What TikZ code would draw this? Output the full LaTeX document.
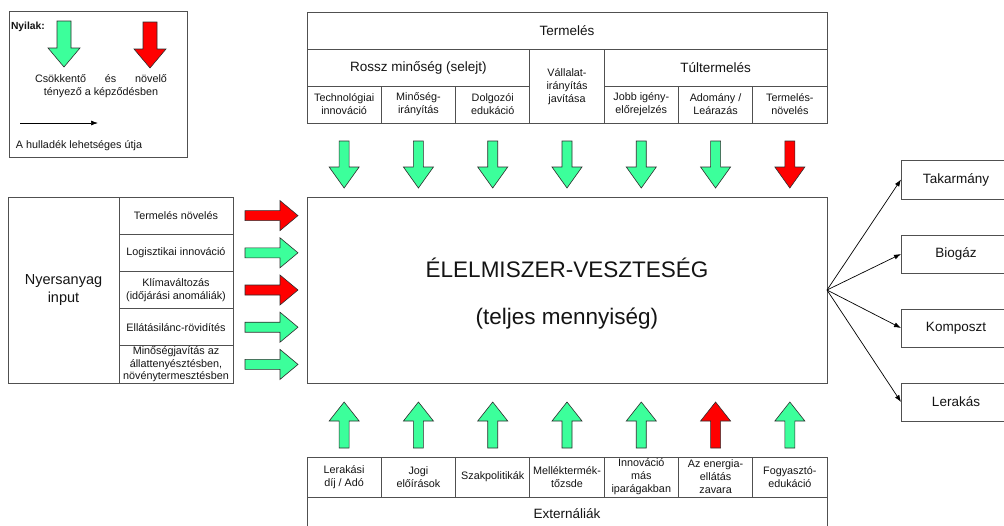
\documentclass[tikz,border=0pt]{standalone}
\usepackage{fontspec}
\setmainfont{Liberation Sans}
\usetikzlibrary{arrows.meta}
\definecolor{ggreen}{RGB}{60,255,155}
\definecolor{rred}{RGB}{255,0,0}
\definecolor{lineg}{RGB}{80,80,80}
\definecolor{arrline}{RGB}{45,45,45}
\definecolor{txt}{RGB}{20,20,20}
\tikzset{
  cell/.style={draw=lineg, line width=0.9pt, inner sep=0pt, outer sep=0pt, align=center, text=txt, font=\fontsize{10.8}{13}\selectfont},
  headcell/.style={cell, font=\fontsize{13.5}{16}\selectfont},
  plain/.style={inner sep=0pt, outer sep=0pt, align=center, text=txt},
  fatarr/.style={draw=arrline, line width=0.6pt, line join=miter},
  garr/.style={fatarr, fill=ggreen},
  rarrow/.style={fatarr, fill=rred},
  flow/.style={draw=black, line width=0.7pt, -{Latex[length=7pt,width=5pt]}},
  darr/.pic={\path[pic actions] (-5,0) -- (5,0) -- (5,26) -- (15,26) -- (0,47) -- (-15,26) -- (-5,26) -- cycle;},
  uarr/.pic={\path[pic actions] (-5,0) -- (5,0) -- (5,-27) -- (15,-27) -- (0,-46) -- (-15,-27) -- (-5,-27) -- cycle;},
  rarr/.pic={\path[pic actions] (0,-5) -- (35,-5) -- (35,-15) -- (53,0) -- (35,15) -- (35,5) -- (0,5) -- cycle;},
  legarr/.pic={\path[pic actions] (-7,0) -- (7,0) -- (7,27) -- (16,27) -- (0,46) -- (-16,27) -- (-7,27) -- cycle;},
}
\begin{document}
\begin{tikzpicture}[x=1pt,y=-1pt]
\useasboundingbox (0,0) rectangle (1004,525);
\clip (0,0) rectangle (1004,525);
\fill[white] (0,0) rectangle (1004,525);

% ---------- legend ----------
\node[cell, minimum width=178pt, minimum height=146pt] (legend) at (98,84) {};
\node[plain, anchor=west, font=\fontsize{10.3}{12}\selectfont\bfseries] (nyilak) at (11,27) {Nyilak:};
\pic[garr] at (64,21) {legarr};
\pic[rarrow] at (150,22) {legarr};
\node[plain, font=\fontsize{10.8}{12.5}\selectfont] (legtext) at (101,86) {\makebox[132pt][s]{Csökkentő és növelő}\\tényező a képződésben};
\coordinate (lega) at (20,123);
\coordinate (legb) at (98,123);
\draw[flow] (lega) -- (legb);
\node[plain, anchor=west, font=\fontsize{10.8}{12.5}\selectfont] (legpath) at (16,146) {A hulladék lehetséges útja};

% ---------- top block: Termelés ----------
\node[headcell, minimum width=520pt, minimum height=37pt] (termeles) at (567,31) {Termelés};
\node[headcell, minimum width=222.86pt, minimum height=36.5pt] (rossz) at (418.43,67.75) {Rossz minőség (selejt)};
\node[cell, minimum width=74.29pt, minimum height=73.5pt] (vallalat) at (567,86.25) {Vállalat-\\irányítás\\javítása};
\node[headcell, minimum width=222.86pt, minimum height=36.5pt] (tul) at (715.57,67.75) {Túltermelés};
\node[cell, minimum width=74.29pt, minimum height=37pt] (t1) at (344.14,104.5) {Technológiai\\innováció};
\node[cell, minimum width=74.29pt, minimum height=37pt] (t2) at (418.43,104.5) {Minőség-\\irányítás};
\node[cell, minimum width=74.29pt, minimum height=37pt] (t3) at (492.71,104.5) {Dolgozói\\edukáció};
\node[cell, minimum width=74.29pt, minimum height=37pt] (t5) at (641.29,104.5) {Jobb igény-\\előrejelzés};
\node[cell, minimum width=74.29pt, minimum height=37pt] (t6) at (715.57,104.5) {Adomány /\\Leárazás};
\node[cell, minimum width=74.29pt, minimum height=37pt] (t7) at (789.86,104.5) {Termelés-\\növelés};

% down arrows
\pic[garr] at (344.14,141) {darr};
\pic[garr] at (418.43,141) {darr};
\pic[garr] at (492.71,141) {darr};
\pic[garr] at (567,141) {darr};
\pic[garr] at (641.29,141) {darr};
\pic[garr] at (715.57,141) {darr};
\pic[rarrow] at (789.86,141) {darr};

% ---------- central box ----------
\node[cell, minimum width=520pt, minimum height=186pt] (center) at (567,290) {};
\node[plain, font=\fontsize{22.5}{27}\selectfont] (title) at (567,268) {ÉLELMISZER-VESZTESÉG};
\node[plain, font=\fontsize{22.5}{27}\selectfont] (subtitle) at (567,319) {(teljes mennyiség)};

% up arrows
\pic[garr] at (344.14,448) {uarr};
\pic[garr] at (418.43,448) {uarr};
\pic[garr] at (492.71,448) {uarr};
\pic[garr] at (567,448) {uarr};
\pic[garr] at (641.29,448) {uarr};
\pic[rarrow] at (715.57,448) {uarr};
\pic[garr] at (789.86,448) {uarr};

% ---------- bottom block: Externáliák ----------
\node[cell, minimum width=74.29pt, minimum height=40pt] (b1) at (344.14,477) {Lerakási\\díj / Adó};
\node[cell, minimum width=74.29pt, minimum height=40pt] (b2) at (418.43,477) {Jogi\\előírások};
\node[cell, minimum width=74.29pt, minimum height=40pt] (b3) at (492.71,477) {Szakpolitikák};
\node[cell, minimum width=74.29pt, minimum height=40pt] (b4) at (567,477) {Melléktermék-\\tőzsde};
\node[cell, minimum width=74.29pt, minimum height=40pt] (b5) at (641.29,477) {Innováció\\más\\iparágakban};
\node[cell, minimum width=74.29pt, minimum height=40pt] (b6) at (715.57,477) {Az energia-\\ellátás\\zavara};
\node[cell, minimum width=74.29pt, minimum height=40pt] (b7) at (789.86,477) {Fogyasztó-\\edukáció};
\node[headcell, minimum width=520pt, minimum height=34pt] (ext) at (567,514) {Externáliák};

% ---------- left block ----------
\node[cell, minimum width=111pt, minimum height=186pt, font=\fontsize{14.5}{18}\selectfont] (nyers) at (63.5,290) {Nyersanyag\\input};
\node[cell, minimum width=114pt, minimum height=37.2pt] (l1) at (176,215.6) {Termelés növelés};
\node[cell, minimum width=114pt, minimum height=37.2pt] (l2) at (176,252.8) {Logisztikai innováció};
\node[cell, minimum width=114pt, minimum height=37.2pt] (l3) at (176,290) {Klímaváltozás\\(időjárási anomáliák)};
\node[cell, minimum width=114pt, minimum height=37.2pt] (l4) at (176,327.2) {Ellátásilánc-rövidítés};
\node[cell, minimum width=114pt, minimum height=37.2pt, font=\fontsize{10.8}{12.3}\selectfont] (l5) at (176,364.4) {Minőségjavítás az\\állattenyésztésben,\\növénytermesztésben};

% right-pointing arrows
\pic[rarrow] at (245,215.6) {rarr};
\pic[garr] at (245,252.8) {rarr};
\pic[rarrow] at (245,290) {rarr};
\pic[garr] at (245,327.2) {rarr};
\pic[garr] at (245,364.4) {rarr};

% ---------- right block: destinations ----------
\node[headcell, minimum width=110pt, minimum height=39pt] (tak) at (956,179.5) {Takarmány};
\node[headcell, minimum width=110pt, minimum height=38pt] (bio) at (956,254) {Biogáz};
\node[headcell, minimum width=110pt, minimum height=38pt] (komp) at (956,328) {Komposzt};
\node[headcell, minimum width=110pt, minimum height=38pt] (ler) at (956,402) {Lerakás};

\draw[flow] (center.east) -- (tak.west);
\draw[flow] (center.east) -- (bio.west);
\draw[flow] (center.east) -- (komp.west);
\draw[flow] (center.east) -- (ler.west);
\end{tikzpicture}
\end{document}
